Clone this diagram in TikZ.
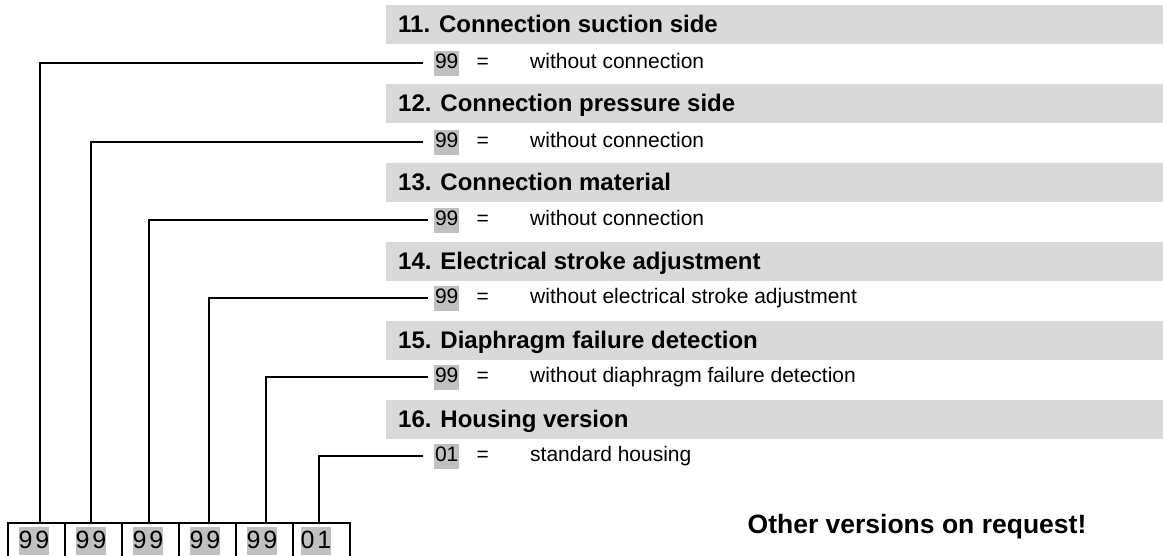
\documentclass[tikz,border=0pt]{standalone}
\usepackage{fontspec}
\setmainfont{Liberation Sans}
\usetikzlibrary{positioning}
\definecolor{barGray}{HTML}{D9D9D9}
\definecolor{codeGray}{HTML}{C0C0C0}

\begin{document}
\begin{tikzpicture}[x=1pt, y=-1pt,
    headtext/.style={anchor=west, inner sep=0pt, text height=17.2pt, text depth=0pt,
        font=\fontsize{24}{28}\selectfont\bfseries},
    rowtext/.style={inner sep=0pt, text height=18pt, text depth=7pt,
        font=\fontsize{21}{25}\selectfont},
    code/.style={rowtext, anchor=west, fill=codeGray, inner xsep=0.8pt},
    digitbox/.style={draw, line width=2pt, minimum width=57pt, minimum height=34pt, inner sep=0pt},
    boxcode/.style={fill=codeGray, inner sep=0pt, text height=21pt, text depth=7pt,
        font=\fontsize{25}{30}\selectfont\addfontfeature{LetterSpace=12}},
    link/.style={line width=1.6pt}]
    \useasboundingbox (0,0) rectangle (1163,555);

    % Section 11
    \fill[barGray] (386,5) rectangle (1163,43.5);
    \node[headtext] (h11) at (398,24.2) {11. Connection suction side};
    \node[code] (n11) at (434,63) {99};
    \node[rowtext, right=17pt of n11] (e11) {=};
    \node[rowtext, right=41pt of e11] (t11) {without connection};

    % Section 12
    \fill[barGray] (386,84) rectangle (1163,122.5);
    \node[headtext] (h12) at (398,103.2) {12. Connection pressure side};
    \node[code] (n12) at (434,142) {99};
    \node[rowtext, right=17pt of n12] (e12) {=};
    \node[rowtext, right=41pt of e12] (t12) {without connection};

    % Section 13
    \fill[barGray] (386,163) rectangle (1163,201.5);
    \node[headtext] (h13) at (398,182.2) {13. Connection material};
    \node[code] (n13) at (434,220) {99};
    \node[rowtext, right=17pt of n13] (e13) {=};
    \node[rowtext, right=41pt of e13] (t13) {without connection};

    % Section 14
    \fill[barGray] (386,242) rectangle (1163,280.5);
    \node[headtext] (h14) at (398,261.2) {14. Electrical stroke adjustment};
    \node[code] (n14) at (434,298) {99};
    \node[rowtext, right=17pt of n14] (e14) {=};
    \node[rowtext, right=41pt of e14] (t14) {without electrical stroke adjustment};

    % Section 15
    \fill[barGray] (386,321) rectangle (1163,359.5);
    \node[headtext] (h15) at (398,340.2) {15. Diaphragm failure detection};
    \node[code] (n15) at (434,377) {99};
    \node[rowtext, right=17pt of n15] (e15) {=};
    \node[rowtext, right=41pt of e15] (t15) {without diaphragm failure detection};

    % Section 16
    \fill[barGray] (386,400) rectangle (1163,438.5);
    \node[headtext] (h16) at (398,419.2) {16. Housing version};
    \node[code] (n16) at (434,456) {01};
    \node[rowtext, right=17pt of n16] (e16) {=};
    \node[rowtext, right=41pt of e16] (t16) {standard housing};

    % Order code boxes
    \node[digitbox] (b1) at (36.5,540) {};
    \node[digitbox] (b2) at (93.5,540) {};
    \node[digitbox] (b3) at (150.5,540) {};
    \node[digitbox] (b4) at (207.5,540) {};
    \node[digitbox] (b5) at (264.5,540) {};
    \node[digitbox] (b6) at (321.5,540) {};
    \node[boxcode] (c1) at (34,541) {99};
    \node[boxcode] (c2) at (91,541) {99};
    \node[boxcode] (c3) at (148,541) {99};
    \node[boxcode] (c4) at (205,541) {99};
    \node[boxcode] (c5) at (262,541) {99};
    \node[boxcode] (c6) at (316,541) {01};

    % Connectors
    \draw[link, shorten >=11pt] ([xshift=3.5pt]b1.north) |- (n11);
    \draw[link, shorten >=11pt] ([xshift=-2.5pt]b2.north) |- (n12);
    \draw[link, shorten >=6pt] ([xshift=-1.5pt]b3.north) |- (n13);
    \draw[link, shorten >=6pt] ([xshift=1.5pt]b4.north) |- (n14);
    \draw[link, shorten >=6pt] ([xshift=1.5pt]b5.north) |- (n15);
    \draw[link, shorten >=11pt] ([xshift=-2.5pt]b6.north) |- (n16);

    \node[inner sep=0pt, text height=19pt, text depth=0pt,
        font=\fontsize{26.5}{31}\selectfont\bfseries] (other) at (917,524) {Other versions on request!};
\end{tikzpicture}
\end{document}
